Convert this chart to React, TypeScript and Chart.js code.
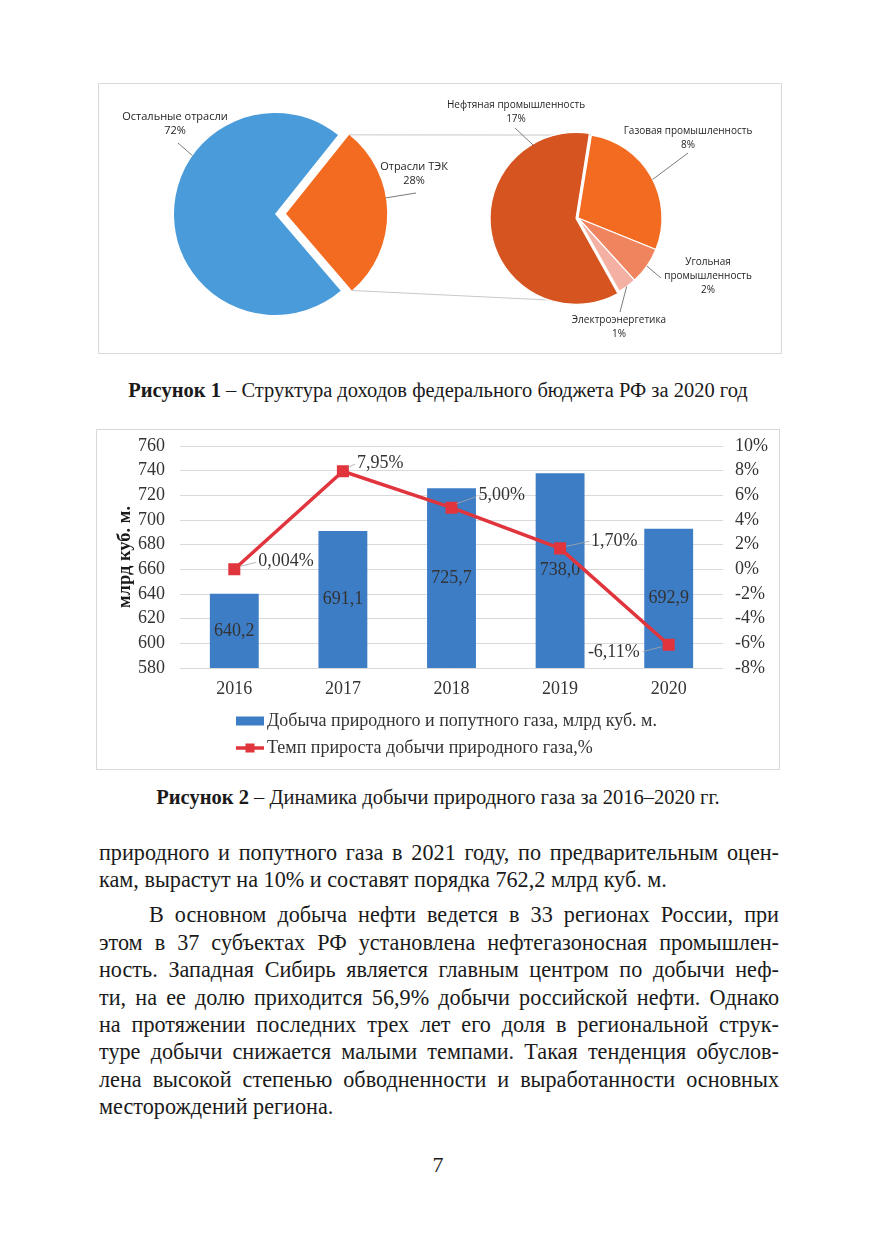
import React, { useEffect, useRef } from "react";
import { Chart, registerables } from "chart.js";

Chart.register(...registerables);

// ---------- Figure 1 data ----------
const mainPieLabels = ["Отрасли ТЭК", "Остальные отрасли"];
const mainPieValues = [28, 72];
const mainPieValueLabels = ["28%", "72%"];

const subPieLabels = ["Газовая промышленность", "Угольная промышленность", "Электроэнергетика", "Нефтяная промышленность"];
const subPieValues = [8, 2, 1, 17];
const subPieValueLabels = ["8%", "2%", "1%", "17%"];

// ---------- Figure 2 data ----------
const years = ["2016", "2017", "2018", "2019", "2020"];
const gasProduction = [640.2, 691.1, 725.7, 738.0, 692.9];
const gasProductionLabels = ["640,2", "691,1", "725,7", "738,0", "692,9"];
const growthRate = [0.004, 7.95, 5.0, 1.7, -6.11];
const growthRateLabels = ["0,004%", "7,95%", "5,00%", "1,70%", "-6,11%"];
const leftTicks = [580, 600, 620, 640, 660, 680, 700, 720, 740, 760];
const rightTicks = [-8, -6, -4, -2, 0, 2, 4, 6, 8, 10];
const rightTickLabels = ["-8%", "-6%", "-4%", "-2%", "0%", "2%", "4%", "6%", "8%", "10%"];

const seriesBarName = "Добыча природного и попутного газа, млрд куб. м.";
const seriesLineName = "Темп прироста добычи природного газа,%";
const yAxisTitle = "млрд куб. м.";

// ---------- styles / layout ----------
const SERIF = "'Liberation Serif', 'Times New Roman', serif";
const SANS = "'Open Sans', 'Noto Sans', sans-serif";
const BLUE_PIE = "#4A9BDA";
const ORANGE = "#F26B21";
const OIL = "#D5541F";
const COAL = "#F0845F";
const ELEC = "#F5B0A4";
const BAR_BLUE = "#3D7DC6";
const LINE_RED = "#E0353D";
const TXT = "#333333";
const FS = 18;

const FIG1 = { left: 98, top: 83, width: 684, height: 271 };
const FIG2 = { left: 96, top: 429, width: 684, height: 341 };

// pie geometry in figure-1 canvas coordinates
const MAIN_C = { x: 177, y: 131, r: 101, explode: 11, rotation: 38.6 };
const SUB_C = { x: 480, y: 135, r: 84, rotation: 9.2 };

// label layout for figure 1 (canvas coords)
const mainLabelLayout = [
  { lines: [mainPieLabels[0], mainPieValueLabels[0]], x: 316, y: 84, frac: 0.42, end: [318, 110] },
  { lines: ["Остальные отрасли", mainPieValueLabels[1]], x: 77, y: 34, frac: 0.64, end: [80, 60] },
];
const subLabelLayout = [
  { lines: [subPieLabels[0], subPieValueLabels[0]], x: 590, y: 48, frac: 0.52, end: [590, 70] },
  { lines: ["Угольная", "промышленность", subPieValueLabels[1]], x: 610, y: 179, frac: 0.5, end: [563, 195] },
  { lines: [subPieLabels[2], subPieValueLabels[2]], x: 521, y: 237, frac: 0.53, end: [522, 229] },
  { lines: [subPieLabels[3], subPieValueLabels[3]], x: 418, y: 22, frac: 0.82, end: [417, 45] },
];

// line-label layout offsets relative to each point
const lineLabelLayout = [
  { tx: 24, ty: -8, align: "left", a: [6, -3], b: [22, -7] },
  { tx: 14, ty: -8, align: "left", a: [5, -4], b: [12, -7] },
  { tx: 27, ty: -12, align: "left", a: [5, -4], b: [25, -11] },
  { tx: 31, ty: -7, align: "left", a: [6, -2], b: [29, -7] },
  { tx: -29, ty: 8, align: "right", a: [-26, 7], b: [-7, 2] },
];

const bodyLines = [
  { text: "природного и попутного газа в 2021 году, по предварительным оцен-", top: 841, indent: 0, justify: true },
  { text: "кам, вырастут на 10% и составят порядка 762,2 млрд куб. м.", top: 868, indent: 0, justify: false },
  { text: "В основном добыча нефти ведется в 33 регионах России, при", top: 903, indent: 50, justify: true },
  { text: "этом в 37 субъектах РФ установлена нефтегазоносная промышлен-", top: 931, indent: 0, justify: true },
  { text: "ность. Западная Сибирь является главным центром по добычи неф-", top: 958, indent: 0, justify: true },
  { text: "ти, на ее долю приходится 56,9% добычи российской нефти. Однако", top: 986, indent: 0, justify: true },
  { text: "на протяжении последних трех лет его доля в региональной струк-", top: 1013, indent: 0, justify: true },
  { text: "туре добычи снижается малыми темпами. Такая тенденция обуслов-", top: 1040, indent: 0, justify: true },
  { text: "лена высокой степенью обводненности и выработанности основных", top: 1068, indent: 0, justify: true },
  { text: "месторождений региона.", top: 1095, indent: 0, justify: false },
];

function drawLabelBlock(ctx: CanvasRenderingContext2D, lines: string[], x: number, y: number, lh: number) {
  lines.forEach((t, i) => ctx.fillText(t, x, y + i * lh));
}

function arcEdgePoint(el: any, frac: number, extraOffset: number) {
  const ang = el.startAngle + (el.endAngle - el.startAngle) * frac;
  const half = (el.startAngle + el.endAngle) / 2;
  return {
    x: el.x + Math.cos(half) * extraOffset + Math.cos(ang) * el.outerRadius,
    y: el.y + Math.sin(half) * extraOffset + Math.sin(ang) * el.outerRadius,
  };
}

function MainPie() {
  const ref = useRef<HTMLCanvasElement | null>(null);
  useEffect(() => {
    if (!ref.current) return;
    const offsets = [MAIN_C.explode, 0];
    const labelsPlugin = {
      id: "mainPieLabels",
      beforeDatasetsDraw(chart: any) {
        const ctx = chart.ctx;
        const el = chart.getDatasetMeta(0).data[0];
        const p1 = arcEdgePoint(el, 0, MAIN_C.explode);
        const p2 = arcEdgePoint(el, 1, MAIN_C.explode);
        const subStart = (SUB_C.rotation - 90) * Math.PI / 180;
        const q1 = { x: SUB_C.x + Math.cos(subStart) * SUB_C.r, y: SUB_C.y + Math.sin(subStart) * SUB_C.r };
        const bottomAng = (190 - 90) * Math.PI / 180;
        const q2 = { x: SUB_C.x + Math.cos(bottomAng) * SUB_C.r, y: SUB_C.y + Math.sin(bottomAng) * SUB_C.r };
        ctx.save();
        ctx.strokeStyle = "#c8c8c8";
        ctx.lineWidth = 1;
        ctx.beginPath();
        ctx.moveTo(p1.x, p1.y);
        ctx.lineTo(q1.x, q1.y);
        ctx.moveTo(p2.x, p2.y);
        ctx.lineTo(q2.x, q2.y);
        ctx.stroke();
        ctx.restore();
      },
      afterDatasetsDraw(chart: any) {
        const ctx = chart.ctx;
        const meta = chart.getDatasetMeta(0);
        ctx.save();
        ctx.font = `11px ${SANS}`;
        ctx.fillStyle = "#1f1f1f";
        ctx.textAlign = "center";
        ctx.textBaseline = "middle";
        mainLabelLayout.forEach((lab, i) => {
          const el = meta.data[i];
          const p = arcEdgePoint(el, lab.frac, offsets[i]);
          ctx.strokeStyle = "#595959";
          ctx.lineWidth = 0.8;
          ctx.beginPath();
          ctx.moveTo(p.x, p.y);
          ctx.lineTo(lab.end[0], lab.end[1]);
          ctx.stroke();
          drawLabelBlock(ctx, lab.lines, lab.x, lab.y, 14);
        });
        ctx.restore();
      },
    };
    const chart = new Chart(ref.current, {
      type: "pie",
      data: {
        labels: mainPieLabels,
        datasets: [
          {
            data: mainPieValues,
            backgroundColor: [ORANGE, BLUE_PIE],
            borderWidth: 0,
            offset: offsets.map((o) => o * 4),
          } as any,
        ],
      },
      options: {
        responsive: false,
        animation: false,
        rotation: MAIN_C.rotation,
        radius: MAIN_C.r,
        layout: { padding: { left: 0, right: FIG1.width - 2 * MAIN_C.x, top: 0, bottom: FIG1.height - 2 * MAIN_C.y } },
        plugins: { legend: { display: false }, tooltip: { enabled: false } },
      } as any,
      plugins: [labelsPlugin],
    });
    return () => chart.destroy();
  }, []);
  return (
    <canvas ref={ref} width={FIG1.width} height={FIG1.height}
      style={{ position: "absolute", left: 0, top: 0, width: FIG1.width, height: FIG1.height }} />
  );
}

function SubPie() {
  const ref = useRef<HTMLCanvasElement | null>(null);
  useEffect(() => {
    if (!ref.current) return;
    const offsets = [0, 0, 0, 2];
    const labelsPlugin = {
      id: "subPieLabels",
      afterDatasetsDraw(chart: any) {
        const ctx = chart.ctx;
        const meta = chart.getDatasetMeta(0);
        ctx.save();
        ctx.font = `10px ${SANS}`;
        ctx.fillStyle = "#1f1f1f";
        ctx.textAlign = "center";
        ctx.textBaseline = "middle";
        subLabelLayout.forEach((lab, i) => {
          const el = meta.data[i];
          const p = arcEdgePoint(el, lab.frac, offsets[i]);
          ctx.strokeStyle = "#595959";
          ctx.lineWidth = 0.8;
          ctx.beginPath();
          ctx.moveTo(p.x, p.y);
          ctx.lineTo(lab.end[0], lab.end[1]);
          ctx.stroke();
          drawLabelBlock(ctx, lab.lines, lab.x, lab.y, 14);
        });
        ctx.restore();
      },
    };
    const chart = new Chart(ref.current, {
      type: "pie",
      data: {
        labels: subPieLabels,
        datasets: [
          {
            data: subPieValues,
            backgroundColor: [ORANGE, COAL, ELEC, OIL],
            borderColor: "#ffffff",
            borderWidth: 1.2,
            offset: offsets.map((o) => o * 4),
          } as any,
        ],
      },
      options: {
        responsive: false,
        animation: false,
        rotation: SUB_C.rotation,
        radius: SUB_C.r,
        layout: { padding: { left: 2 * SUB_C.x - FIG1.width, right: 0, top: 0, bottom: FIG1.height - 2 * SUB_C.y } },
        plugins: { legend: { display: false }, tooltip: { enabled: false } },
      } as any,
      plugins: [labelsPlugin],
    });
    return () => chart.destroy();
  }, []);
  return (
    <canvas ref={ref} width={FIG1.width} height={FIG1.height}
      style={{ position: "absolute", left: 0, top: 0, width: FIG1.width, height: FIG1.height }} />
  );
}

function drawBarLabels(chart: any) {
  const ctx = chart.ctx;
  const xs = chart.scales.x;
  const ys = chart.scales.y;
  const base = ys.getPixelForValue(ys.min);
  ctx.save();
  ctx.font = `${FS}px ${SERIF}`;
  ctx.fillStyle = TXT;
  ctx.textAlign = "center";
  ctx.textBaseline = "middle";
  gasProduction.forEach((v, i) => {
    const top = ys.getPixelForValue(v);
    ctx.fillText(gasProductionLabels[i], xs.getPixelForValue(i), (top + base) / 2);
  });
  ctx.restore();
}

function GasChart() {
  const ref = useRef<HTMLCanvasElement | null>(null);
  useEffect(() => {
    if (!ref.current) return;
    const font = { family: SERIF, size: FS };
    let barLabelsDone = false;
    const extras = {
      id: "gasExtras",
      beforeDatasetsDraw() {
        barLabelsDone = false;
      },
      beforeDatasetDraw(chart: any, args: any) {
        const ds = chart.data.datasets[args.index];
        if (ds && ds.type === "line" && !barLabelsDone) {
          drawBarLabels(chart);
          barLabelsDone = true;
        }
      },
      afterDatasetsDraw(chart: any) {
        if (!barLabelsDone) {
          drawBarLabels(chart);
          barLabelsDone = true;
        }
        const ctx = chart.ctx;
        const meta = chart.getDatasetMeta(0);
        ctx.save();
        ctx.font = `${FS}px ${SERIF}`;
        ctx.fillStyle = TXT;
        ctx.textBaseline = "middle";
        meta.data.forEach((pt: any, i: number) => {
          const L = lineLabelLayout[i];
          ctx.strokeStyle = "#a6a6a6";
          ctx.lineWidth = 0.8;
          ctx.beginPath();
          ctx.moveTo(pt.x + L.a[0], pt.y + L.a[1]);
          ctx.lineTo(pt.x + L.b[0], pt.y + L.b[1]);
          ctx.stroke();
          ctx.textAlign = L.align;
          ctx.fillText(growthRateLabels[i], pt.x + L.tx, pt.y + L.ty);
        });
        // y axis title
        const ca = chart.chartArea;
        ctx.save();
        ctx.translate(29, (ca.top + ca.bottom) / 2);
        ctx.rotate(-Math.PI / 2);
        ctx.textAlign = "center";
        ctx.font = `bold ${FS + 0.5}px ${SERIF}`;
        ctx.fillStyle = "#1a1a1a";
        ctx.fillText(yAxisTitle, 0, 0);
        ctx.restore();
        // legend
        const lx = 140;
        const ly1 = 292;
        const ly2 = 319;
        ctx.fillStyle = BAR_BLUE;
        ctx.fillRect(lx, ly1 - 4.5, 28, 9);
        ctx.strokeStyle = LINE_RED;
        ctx.lineWidth = 3.5;
        ctx.beginPath();
        ctx.moveTo(lx, ly2);
        ctx.lineTo(lx + 28, ly2);
        ctx.stroke();
        ctx.fillStyle = LINE_RED;
        ctx.fillRect(lx + 14 - 4.5, ly2 - 4.5, 9, 9);
        ctx.fillStyle = TXT;
        ctx.textAlign = "left";
        ctx.fillText(chart.data.datasets[1].label, lx + 31, ly1);
        ctx.fillText(chart.data.datasets[0].label, lx + 31, ly2);
        ctx.restore();
      },
    };
    const fitVertical = (width: number) => (s: any) => {
      s.width = width;
      s.paddingTop = 0;
      s.paddingBottom = 0;
    };
    const chart = new Chart(ref.current, {
      type: "bar",
      data: {
        labels: years,
        datasets: [
          {
            type: "line",
            label: seriesLineName,
            data: growthRate,
            yAxisID: "y1",
            borderColor: LINE_RED,
            backgroundColor: LINE_RED,
            borderWidth: 3.5,
            pointStyle: "rect",
            pointRadius: 8.5,
            pointBackgroundColor: LINE_RED,
            pointBorderColor: LINE_RED,
            pointBorderWidth: 0,
            tension: 0,
            order: 0,
          } as any,
          {
            type: "bar",
            label: seriesBarName,
            data: gasProduction,
            yAxisID: "y",
            backgroundColor: BAR_BLUE,
            barPercentage: 0.45,
            categoryPercentage: 1,
            order: 1,
          } as any,
        ],
      },
      options: {
        responsive: false,
        animation: false,
        layout: { padding: { top: 17, left: 0, right: 0, bottom: 0 } },
        plugins: { legend: { display: false }, tooltip: { enabled: false } },
        scales: {
          x: {
            grid: { display: false, drawTicks: false },
            border: { display: false },
            ticks: { font, color: TXT, padding: 10 },
            afterFit: (s: any) => { s.height = 102; },
          },
          y: {
            position: "left",
            min: leftTicks[0],
            max: leftTicks[leftTicks.length - 1],
            afterBuildTicks: (s: any) => { s.ticks = leftTicks.map((v) => ({ value: v })); },
            ticks: { font, color: TXT, padding: 15, autoSkip: false },
            grid: { color: "#d9d9d9", drawTicks: false, lineWidth: 1 },
            border: { display: false },
            afterFit: fitVertical(84),
          },
          y1: {
            position: "right",
            min: rightTicks[0],
            max: rightTicks[rightTicks.length - 1],
            afterBuildTicks: (s: any) => { s.ticks = rightTicks.map((v) => ({ value: v })); },
            ticks: {
              font, color: TXT, padding: 12, autoSkip: false,
              callback: (v: any) => rightTickLabels[rightTicks.indexOf(Number(v))] ?? "",
            },
            grid: { display: false, drawTicks: false },
            border: { display: false },
            afterFit: fitVertical(57),
          },
        },
      } as any,
      plugins: [extras],
    });
    return () => chart.destroy();
  }, []);
  return (
    <canvas ref={ref} width={FIG2.width} height={FIG2.height}
      style={{ position: "absolute", left: 0, top: 0, width: FIG2.width, height: FIG2.height }} />
  );
}

export default function App() {
  return (
    <div style={{ position: "absolute", left: 0, top: 0, width: 876, height: 1240, background: "#fff", overflow: "hidden", fontFamily: SERIF, color: "#1a1a1a" }}>
      <div style={{ position: "absolute", left: FIG1.left, top: FIG1.top, width: FIG1.width, height: FIG1.height }}>
        <MainPie />
        <SubPie />
        <div style={{ position: "absolute", left: 0, top: 0, width: FIG1.width - 2, height: FIG1.height - 2, border: "1px solid #d9d9d9", pointerEvents: "none" }} />
      </div>
      <div style={{ position: "absolute", left: 0, top: 378, width: 876, textAlign: "center", fontSize: 20.5, lineHeight: "24px" }}>
        <b>Рисунок 1</b> – Структура доходов федерального бюджета РФ за 2020 год
      </div>
      <div style={{ position: "absolute", left: FIG2.left, top: FIG2.top, width: FIG2.width, height: FIG2.height }}>
        <GasChart />
        <div style={{ position: "absolute", left: 0, top: 0, width: FIG2.width - 2, height: FIG2.height - 2, border: "1px solid #d9d9d9", pointerEvents: "none" }} />
      </div>
      <div style={{ position: "absolute", left: 0, top: 785, width: 876, textAlign: "center", fontSize: 20.5, lineHeight: "24px" }}>
        <b>Рисунок 2</b> – Динамика добычи природного газа за 2016–2020 гг.
      </div>
      {bodyLines.map((l, i) => (
        <div key={i} style={{
          position: "absolute", left: 99 + l.indent, top: l.top, width: 680 - l.indent,
          fontSize: 22.2, lineHeight: "24px", whiteSpace: "nowrap",
          textAlign: l.justify ? "justify" : "left",
          textAlignLast: l.justify ? "justify" : "left",
        } as any}>{l.text}</div>
      ))}
      <div style={{ position: "absolute", left: 0, top: 1153, width: 876, textAlign: "center", fontSize: 22, lineHeight: "24px" }}>7</div>
    </div>
  );
}
